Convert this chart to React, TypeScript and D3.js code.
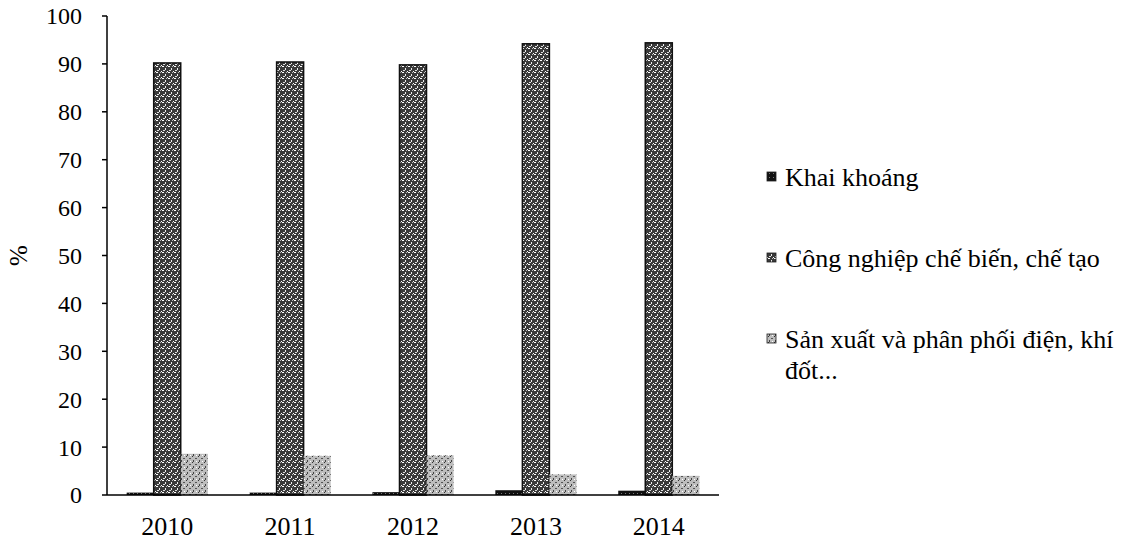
import React from "react";
import * as d3 from "d3";

const years = ["2010", "2011", "2012", "2013", "2014"];
const seriesNames = [
  "Khai khoáng",
  "Công nghiệp chế biến, chế tạo",
  "Sản xuất và phân phối điện, khí đốt...",
];
const legendLines = [
  ["Khai khoáng"],
  ["Công nghiệp chế biến, chế tạo"],
  ["Sản xuất và phân phối điện, khí", "đốt..."],
];
const khaiKhoang = [0.5, 0.5, 0.6, 1.0, 0.9];
const congNghiep = [90.2, 90.4, 89.8, 94.2, 94.4];
const sanXuat = [8.6, 8.2, 8.3, 4.3, 4.0];
const yTicks = [0, 10, 20, 30, 40, 50, 60, 70, 80, 90, 100];

const W = 1134;
const H = 545;
const margin = { left: 107, right: 415, top: 16, bottom: 50 };
const FONT = '"Liberation Serif", "Times New Roman", "DejaVu Serif", serif';

export default function App() {
  const x0 = d3
    .scaleBand<string>()
    .domain(years)
    .range([margin.left, W - margin.right])
    .paddingInner(0.34)
    .paddingOuter(0.16);
  const x1 = d3
    .scaleBand<number>()
    .domain([0, 1, 2])
    .range([0, x0.bandwidth()]);
  const y = d3
    .scaleLinear()
    .domain([0, 100])
    .range([H - margin.bottom, margin.top]);

  const series = [khaiKhoang, congNghiep, sanXuat];
  const fills = ["url(#p0)", "url(#p1)", "url(#p2)"];
  const x0End = W - margin.right;
  const textStyle = { fontFamily: FONT, fill: "#000" } as React.CSSProperties;

  const legendBaselines = [186, 267, 348];

  return (
    <svg width={W} height={H} style={{ display: "block", position: "absolute", left: 0, top: 0 }}>
      <defs>
        <pattern id="p0" width="4" height="4" patternUnits="userSpaceOnUse">
          <rect width="4" height="4" fill="#111" />
          <rect x="1" y="1" width="1" height="1" fill="#777" />
        </pattern>
        <pattern id="p1" width="6" height="6" patternUnits="userSpaceOnUse">
          <rect width="6" height="6" fill="#3a3a3a" />
          <rect x="0" y="0" width="2" height="1" fill="#fff" />
          <rect x="3" y="2" width="1" height="2" fill="#eee" />
          <rect x="1" y="4" width="2" height="1" fill="#ddd" />
          <rect x="5" y="5" width="1" height="1" fill="#fff" />
          <rect x="4" y="0" width="1" height="1" fill="#bbb" />
        </pattern>
        <pattern id="p2" width="6" height="6" patternUnits="userSpaceOnUse">
          <rect width="6" height="6" fill="#bdbdbd" />
          <rect x="0" y="0" width="1" height="1" fill="#333" />
          <rect x="3" y="2" width="2" height="1" fill="#555" />
          <rect x="1" y="4" width="1" height="2" fill="#444" />
          <rect x="4" y="5" width="1" height="1" fill="#fff" />
        </pattern>
      </defs>

      {/* bars */}
      {years.map((yr, i) => (
        <g key={yr}>
          {series.map((s, k) => (
            <rect
              key={k}
              x={(x0(yr) ?? 0) + (x1(k) ?? 0)}
              y={y(s[i])}
              width={x1.bandwidth()}
              height={y(0) - y(s[i])}
              fill={fills[k]}
              stroke={k === 1 ? "#111" : "none"}
              strokeWidth={1.5}
            />
          ))}
        </g>
      ))}

      {/* y axis */}
      <line x1={margin.left} x2={margin.left} y1={y(100)} y2={y(0)} stroke="#000" strokeWidth={1.5} />
      {yTicks.map((t) => (
        <g key={t}>
          <line x1={margin.left - 5} x2={margin.left} y1={y(t)} y2={y(t)} stroke="#000" strokeWidth={1.5} />
          <text
            x={margin.left - 25}
            y={y(t)}
            dy="0.35em"
            textAnchor="end"
            fontSize={24}
            style={textStyle}
          >
            {t}
          </text>
        </g>
      ))}

      {/* x axis */}
      <line x1={margin.left} x2={x0End} y1={y(0)} y2={y(0)} stroke="#000" strokeWidth={1.5} />
      {years.map((yr) => (
        <text
          key={yr}
          x={(x0(yr) ?? 0) + x0.bandwidth() / 2}
          y={y(0) + 40}
          textAnchor="middle"
          fontSize={26}
          style={textStyle}
        >
          {yr}
        </text>
      ))}

      {/* y label */}
      <text
        transform={`translate(27, ${(y(0) + y(100)) / 2}) rotate(-90)`}
        textAnchor="middle"
        fontSize={25}
        style={textStyle}
      >
        %
      </text>

      {/* legend */}
      {legendLines.map((lines, k) => (
        <g key={seriesNames[k]}>
          <rect
            x={767}
            y={legendBaselines[k] - 14}
            width={9}
            height={9}
            fill={fills[k]}
            stroke="#222"
            strokeWidth={0.8}
          />
          <text x={785} y={legendBaselines[k]} fontSize={26} style={textStyle}>
            {lines.map((ln, j) => (
              <tspan key={j} x={785} y={legendBaselines[k] + j * 31}>
                {ln}
              </tspan>
            ))}
          </text>
        </g>
      ))}
    </svg>
  );
}
